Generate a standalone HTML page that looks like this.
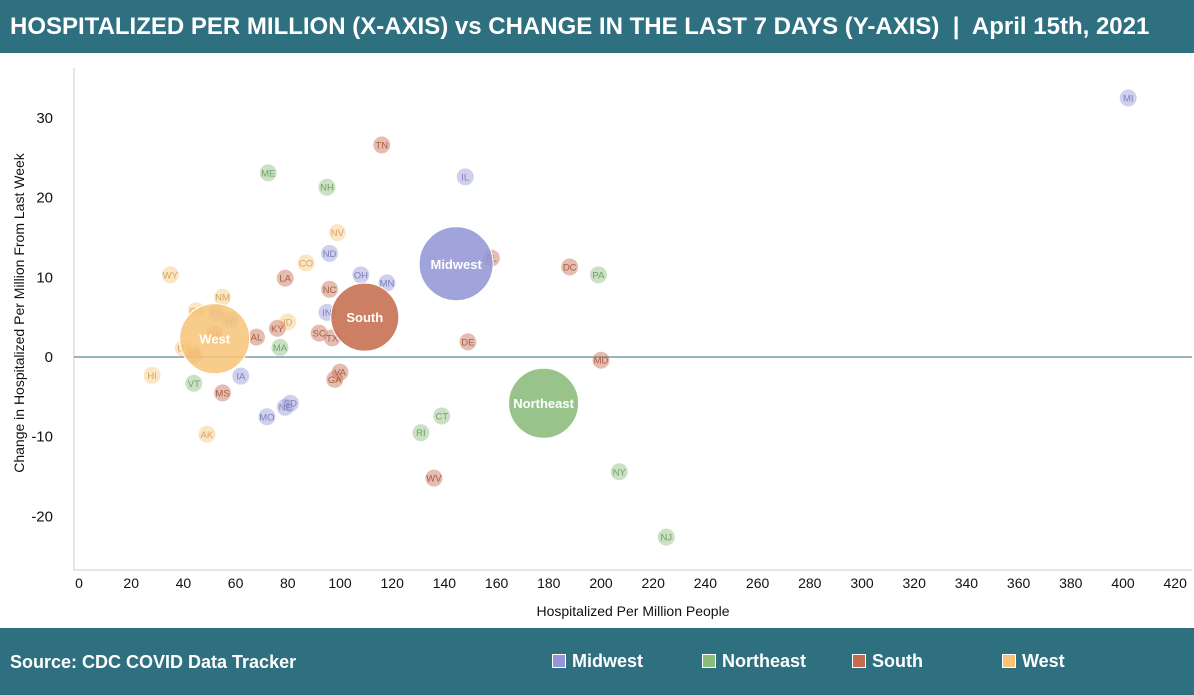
<!DOCTYPE html>
<html><head><meta charset="utf-8"><style>
body{margin:0;width:1194px;height:695px;overflow:hidden;background:#fff;font-family:"Liberation Sans",Arial,sans-serif}
#hdr{position:absolute;left:0;top:0;width:1194px;height:53px;background:#2e6f80;color:#fff;font-weight:bold;font-size:24px;line-height:53px;padding-left:10px;box-sizing:border-box;white-space:nowrap}
#ftr{position:absolute;left:0;top:628px;width:1194px;height:67px;background:#2e6f80;color:#fff;font-weight:bold;font-size:18px}
</style></head><body>
<div id="hdr">HOSPITALIZED PER MILLION (X-AXIS) vs CHANGE IN THE LAST 7 DAYS (Y-AXIS) &nbsp;|&nbsp; April 15th, 2021</div>
<svg id="chart" width="1194" height="628" style="position:absolute;left:0;top:0"></svg>
<div id="ftr">
<div style="position:absolute;left:10px;top:24px">Source: CDC COVID Data Tracker</div>
<div id="legend"></div>
</div>
<script>
const regions=["Midwest","Northeast","South","West"];
const colors={Midwest:"#9496d6",Northeast:"#8abc7b",South:"#c66d4f",West:"#f7c57a"};
const states=["MI","TN","ME","NH","IL","NV","ND","FL","DC","PA","WY","CO","LA","OH","MN","NM","NC","OR","KS","WI","ID","IN","KY","AL","SC","TX","OK","MA","DE","UT","AR","MD","HI","VA","GA","IA","VT","MS","SD","NE","MO","CT","RI","AK","WV","NY","NJ"];
const stateRegion=["Midwest","South","Northeast","Northeast","Midwest","West","Midwest","South","South","Northeast","West","West","South","Midwest","Midwest","West","South","West","Midwest","Midwest","West","Midwest","South","South","South","South","South","Northeast","South","West","South","South","West","South","South","Midwest","Northeast","South","Midwest","Midwest","Midwest","Northeast","Northeast","West","South","Northeast","Northeast"];
const hosp=[402,116,72.5,95,148,99,96,158,188,199,35,87,79,108,118,55,96,45,52.5,58,80,95,76,68,92,97,52,77,149,40,44,200,28,100,98,62,44,55,81,79,72,139,131,49,136,207,225];
const change=[32.5,26.6,23.1,21.3,22.6,15.6,13,12.4,11.3,10.3,10.3,11.8,9.9,10.3,9.3,7.5,8.5,5.8,5.5,4.6,4.4,5.6,3.6,2.5,3,2.4,2.9,1.2,1.9,1.1,0.3,-0.4,-2.3,-1.9,-2.8,-2.4,-3.3,-4.5,-5.8,-6.3,-7.5,-7.4,-9.5,-9.7,-15.2,-14.4,-22.6];
const regionHosp=[144.5,178,109.5,52];
const regionChange=[11.7,-5.8,5,2.3];
const xTicks=[0,20,40,60,80,100,120,140,160,180,200,220,240,260,280,300,320,340,360,380,400,420];
const yTicks=[30,20,10,0,-10,-20];
const NS="http://www.w3.org/2000/svg";
const svg=document.getElementById('chart');
const X=v=>79+v*2.61, Y=v=>357-v*7.97;
function mk(t,a,p){const e=document.createElementNS(NS,t);for(const k in a)e.setAttribute(k,a[k]);(p||svg).appendChild(e);return e;}
const frame=mk('path',{d:'M74,68 V570 H1192',stroke:'#ccc',fill:'none'});


const zl=mk('line',{x1:74,x2:1192,y1:Y(0),y2:Y(0),stroke:'#2e6f80','stroke-width':1});


xTicks.forEach(t=>{const e=mk('text',{x:X(t),y:588,'text-anchor':'middle','font-size':14,fill:'#111'});e.textContent=t;

});
yTicks.forEach(t=>{const e=mk('text',{x:53,y:Y(t)+5,'text-anchor':'end','font-size':15,fill:'#111'});e.textContent=t;

});
let xt=mk('text',{x:633,y:616,'text-anchor':'middle','font-size':14,fill:'#111'});xt.textContent='Hospitalized Per Million People';


let yt=mk('text',{x:0,y:0,'text-anchor':'middle','font-size':14,fill:'#111',transform:'translate(24,313) rotate(-90)'});yt.textContent='Change in Hospitalized Per Million From Last Week';


states.forEach((s,i)=>{const c=colors[stateRegion[i]];const g=mk('g',{});


mk('circle',{cx:X(hosp[i]),cy:Y(change[i]),r:8.5,fill:c,'fill-opacity':0.45},g);
const t=mk('text',{x:X(hosp[i]),y:Y(change[i])+3.5,'text-anchor':'middle','font-size':9.5,fill:c,style:'filter:brightness(0.85)'},g);t.textContent=s;});
const radii=[37,35,34,35];
regions.forEach((r,i)=>{const g=mk('g',{});


mk('circle',{cx:X(regionHosp[i]),cy:Y(regionChange[i]),r:radii[i],fill:colors[r],'fill-opacity':0.88,stroke:'#fff','stroke-width':1},g);
const t=mk('text',{x:X(regionHosp[i]),y:Y(regionChange[i])+5,'text-anchor':'middle','font-size':13,'font-weight':'bold',fill:'#fff'},g);t.textContent=r;});
const lg=document.getElementById('legend');
regions.forEach((r,i)=>{const d=document.createElement('div');


d.style.cssText='position:absolute;top:23px;left:'+(552+150*i)+'px;white-space:nowrap';
d.innerHTML='<span style="display:inline-block;width:12px;height:12px;background:'+colors[r]+';border:1px solid #fff;margin-right:6px;vertical-align:-1px"></span>'+r;
lg.appendChild(d);});
</script>
</body></html>
